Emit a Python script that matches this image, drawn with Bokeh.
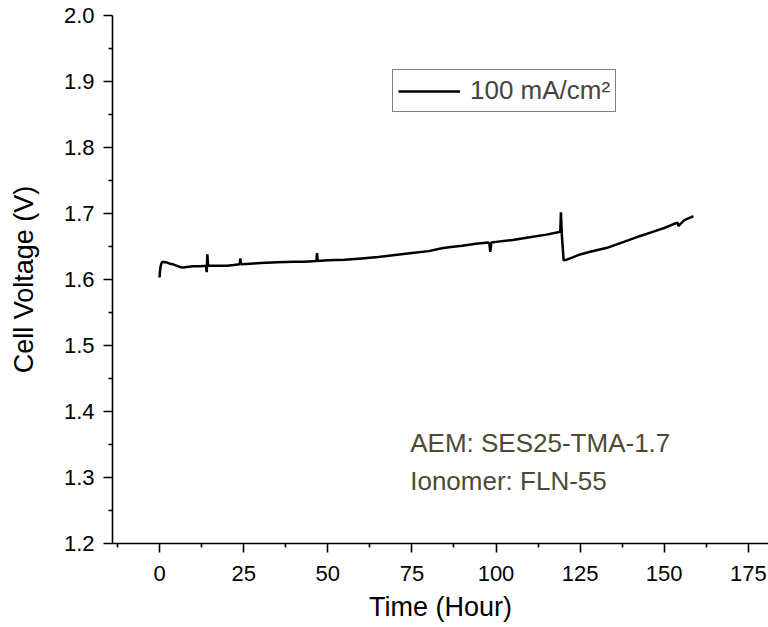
from bokeh.plotting import figure
from bokeh.models import (ColumnDataSource, Range1d, FixedTicker, Legend, LegendItem,
                          Label, LinearAxis, CustomJSTickFormatter)
from bokeh.embed import file_html
from bokeh.resources import INLINE

# ---- data ----
time_h = [0.0, 0.1, 0.3, 0.6, 1.0, 1.5, 2.0, 3.0, 4.0, 5.0, 6.0, 7.0, 8.0, 10.0, 12.0,
          13.8, 14.0, 14.2, 14.4, 16.0, 18.0, 20.0, 22.0, 23.8, 24.0, 24.2, 27.0, 30.0,
          35.0, 40.0, 43.0, 46.6, 46.8, 47.0, 50.0, 55.0, 60.0, 65.0, 70.0, 75.0, 80.0,
          83.5, 86.0, 90.0, 94.0, 97.7, 98.0, 98.3, 98.6, 100.0, 105.0, 110.0, 115.0,
          118.8, 119.1, 119.3, 119.6, 120.1, 121.0, 123.0, 125.0, 128.0, 133.0, 138.0,
          142.9, 147.0, 150.0, 152.8, 154.0, 154.2, 156.0, 158.7]
voltage = [1.603, 1.612, 1.620, 1.625, 1.627, 1.626, 1.626, 1.624, 1.623, 1.621, 1.619,
           1.618, 1.619, 1.620, 1.620, 1.621, 1.611, 1.638, 1.621, 1.621, 1.621, 1.621,
           1.622, 1.623, 1.632, 1.623, 1.624, 1.625, 1.626, 1.627, 1.627, 1.628, 1.640,
           1.628, 1.629, 1.630, 1.632, 1.634, 1.637, 1.640, 1.643, 1.647, 1.649, 1.651,
           1.654, 1.656, 1.655, 1.642, 1.656, 1.657, 1.660, 1.664, 1.668, 1.672, 1.673,
           1.702, 1.665, 1.629, 1.630, 1.634, 1.638, 1.642, 1.648, 1.657, 1.666, 1.673,
           1.678, 1.684, 1.686, 1.681, 1.690, 1.696]

x_ticks = [0, 25, 50, 75, 100, 125, 150, 175]
y_ticks = [1.2, 1.3, 1.4, 1.5, 1.6, 1.7, 1.8, 1.9, 2.0]
x_minor = [-12.5, 12.5, 37.5, 62.5, 87.5, 112.5, 137.5, 162.5]
y_minor = [1.25, 1.35, 1.45, 1.55, 1.65, 1.75, 1.85, 1.95]
series_label = "100 mA/cm\u00b2"
note_lines = ["AEM: SES25-TMA-1.7", "Ionomer: FLN-55"]

FONT = "Liberation Sans"

p = figure(width=768, height=627, output_backend="svg", toolbar_location=None,
           x_range=Range1d(-14, 181), y_range=Range1d(1.2, 2.0),
           min_border_left=112, min_border_top=15, min_border_right=0, min_border_bottom=84,
           x_axis_location=None, y_axis_location=None)
p.outline_line_color = None
p.xgrid.visible = False
p.ygrid.visible = False
p.background_fill_color = "white"
p.border_fill_color = "white"

xa = LinearAxis(axis_label="Time (Hour)")
ya = LinearAxis(axis_label="Cell Voltage (V)")
p.add_layout(xa, "below")
p.add_layout(ya, "left")

xa.ticker = FixedTicker(ticks=x_ticks, minor_ticks=x_minor)
ya.ticker = FixedTicker(ticks=y_ticks, minor_ticks=y_minor)
ya.formatter = CustomJSTickFormatter(code="return tick.toFixed(1);")

for ax in (xa, ya):
    ax.axis_line_width = 1.6
    ax.axis_line_color = "black"
    ax.major_tick_line_width = 1.6
    ax.minor_tick_line_width = 1.6
    ax.major_tick_line_color = "black"
    ax.minor_tick_line_color = "black"
    ax.major_tick_in = 0
    ax.minor_tick_in = 0
    ax.major_tick_out = 9
    ax.minor_tick_out = 4
    ax.major_label_text_font = FONT
    ax.major_label_text_font_size = "22px"
    ax.major_label_text_color = "black"
    ax.axis_label_text_font = FONT
    ax.axis_label_text_font_size = "27px"
    ax.axis_label_text_font_style = "normal"
    ax.axis_label_text_color = "black"

xa.major_label_standoff = 13
xa.axis_label_standoff = 8
ya.major_label_standoff = 9
ya.axis_label_standoff = 22

src = ColumnDataSource(data=dict(t=time_h, v=voltage))
r = p.line("t", "v", source=src, line_color="black", line_width=2.5)

legend = Legend(items=[LegendItem(label=series_label, renderers=[r])],
                location=(280, 431), border_line_color="black", border_line_width=1.2,
                background_fill_color="white", background_fill_alpha=1.0,
                label_text_font=FONT, label_text_font_size="26px",
                glyph_width=62, glyph_height=28, label_standoff=10,
                padding=5, margin=0, spacing=0)
legend.label_height = 28
p.add_layout(legend)

note_color = "#4e4934"
p.add_layout(Label(x=74.5, y=1.353, text=note_lines[0], text_font=FONT,
                   text_font_size="26px", text_color=note_color, text_baseline="alphabetic"))
p.add_layout(Label(x=74.5, y=1.295, text=note_lines[1], text_font=FONT,
                   text_font_size="26px", text_color=note_color, text_baseline="alphabetic"))

open("out.html", "w").write(file_html(p, INLINE))
